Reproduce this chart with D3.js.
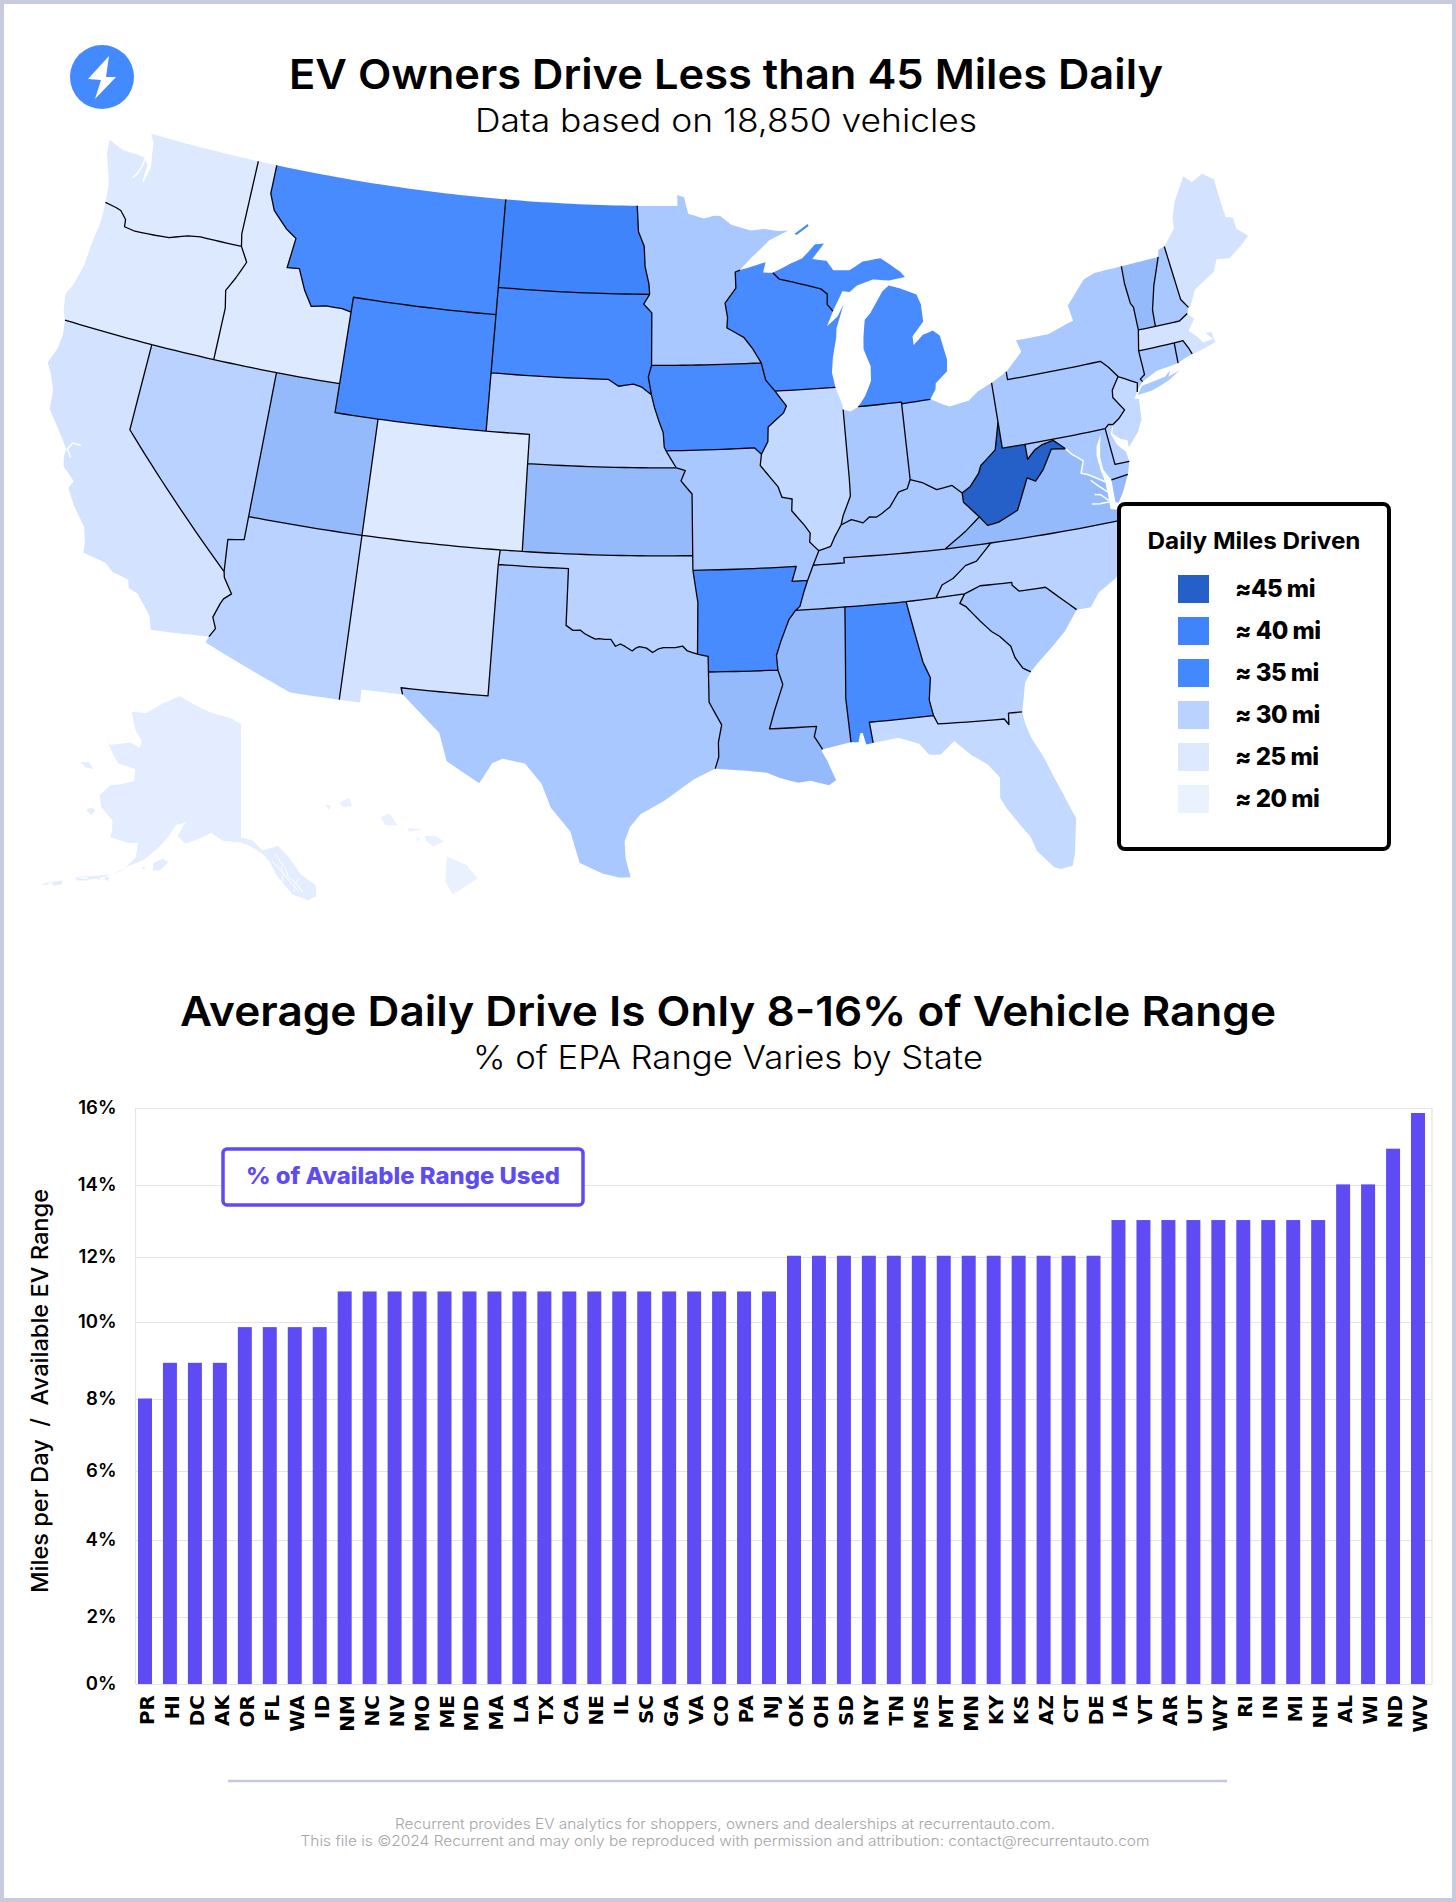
<!DOCTYPE html>
<html><head><meta charset="utf-8">
<script src="https://cdnjs.cloudflare.com/ajax/libs/d3/7.8.5/d3.min.js"></script>
<style>html,body{margin:0;padding:0;background:#c8cadf}svg{display:block}text{font-family:Inter,"Noto Sans",sans-serif}</style>
</head><body><svg id="c" width="1456" height="1902"></svg>
<script>
// ---------- bar chart data ----------
const barStates = ["PR","HI","DC","AK","OR","FL","WA","ID","NM","NC","NV","MO","ME","MD","MA","LA","TX","CA","NE","IL","SC","GA","VA","CO","PA","NJ","OK","OH","SD","NY","TN","MS","MT","MN","KY","KS","AZ","CT","DE","IA","VT","AR","UT","WY","RI","IN","MI","NH","AL","WI","ND","WV"];
const barValues = [8,9,9,9,10,10,10,10,11,11,11,11,11,11,11,11,11,11,11,11,11,11,11,11,11,11,12,12,12,12,12,12,12,12,12,12,12,12,12,13,13,13,13,13,13,13,13,13,14,14,15,16];
const yTickValues = [0,2,4,6,8,10,12,14,16];
const legendLabels = ["≈45 mi","≈ 40 mi","≈ 35 mi","≈ 30 mi","≈ 25 mi","≈ 20 mi"];
const legendColors = ["#2460c8","#3f84fb","#4288ff","#b9d2ff","#dce9ff","#eaf2ff"];

// ---------- state fills ----------
const stateColors = {WA:"#dce9ff",OR:"#dce9ff",ID:"#dce9ff",CO:"#dce9ff",CA:"#d2e2ff",NM:"#d2e2ff",ME:"#d2e2ff",MA:"#d2e2ff",
IL:"#c4d9ff",FL:"#c4d9ff",NJ:"#c4d9ff",NV:"#b9d2ff",AZ:"#b9d2ff",NE:"#b9d2ff",OK:"#b9d2ff",NC:"#b9d2ff",GA:"#b9d2ff",DE:"#b9d2ff",
TX:"#a8c8ff",MN:"#a8c8ff",MO:"#a8c8ff",IN:"#a8c8ff",OH:"#a8c8ff",PA:"#a8c8ff",NY:"#a8c8ff",KY:"#a8c8ff",TN:"#a8c8ff",SC:"#a8c8ff",CT:"#a8c8ff",NH:"#a8c8ff",MD:"#a8c8ff",RI:"#a8c8ff",
MS:"#95bafc",KS:"#95bafc",UT:"#95bafc",VA:"#95bafc",LA:"#95bafc",VT:"#95bafc",
MT:"#488aff",WY:"#488aff",SD:"#488aff",WI:"#488aff",IA:"#488aff",MI:"#488aff",AL:"#488aff",AR:"#488aff",ND:"#3f84fb",WV:"#2460c8"};
const alaskaColor = "#e4edff", hawaiiColor = "#e9f1ff";

// ---------- map geometry: boundary arcs in [lon,lat] ----------
const arcs = {
can_wa:[[-117.03,49],[-122.76,49]],
coast_wa:[[-122.76,49],[-122.5,48.7],[-122.42,48.3],[-122.3,47.9],[-122.42,47.4],[-122.5,47.25],[-122.52,47.4],[-122.5,47.9],[-122.72,48.13],[-123.1,48.17],[-123.9,48.17],[-124.73,48.38],[-124.65,47.9],[-124.3,47.3],[-124.1,46.9],[-124.05,46.65],[-124,46.27]],
wa_or:[[-124,46.27],[-123.4,46.2],[-123.15,46.15],[-122.8,45.9],[-122.75,45.65],[-122.2,45.6],[-121.2,45.65],[-120.5,45.7],[-119.6,45.92],[-119,45.99],[-116.92,45.995]],
id_wa:[[-116.92,45.995],[-117.04,46.42],[-117.03,49]],
coast_or:[[-124,46.27],[-123.95,45.9],[-123.95,45.5],[-124.05,44.8],[-124.1,44],[-124.3,43.3],[-124.55,42.85],[-124.4,42.3],[-124.21,42]],
ca_or:[[-124.21,42],[-120,42]],
nv_or:[[-120,42],[-117.03,42]],
id_or:[[-117.03,42],[-117.03,43.8],[-117.2,44.4],[-116.85,44.9],[-116.5,45.5],[-116.92,45.995]],
coast_ca:[[-124.21,42],[-124.1,41.5],[-124.15,41],[-124.4,40.44],[-124.1,40.1],[-123.8,39.6],[-123.7,38.95],[-123,38.3],[-122.5,37.8],[-122.5,37.5],[-122.4,37.2],[-122,36.95],[-121.8,36.8],[-121.95,36.55],[-121.5,36],[-120.85,35.4],[-120.65,34.9],[-120.6,34.55],[-119.6,34.4],[-119.2,34.15],[-118.5,34.03],[-118.4,33.75],[-118,33.65],[-117.3,33],[-117.12,32.53]],
mex_ca:[[-117.12,32.53],[-114.72,32.72]],
az_ca:[[-114.72,32.72],[-114.52,33.03],[-114.72,33.4],[-114.53,33.9],[-114.43,34.08],[-114.14,34.3],[-114.57,34.8],[-114.63,35]],
ca_nv:[[-120,42],[-120,39],[-114.63,35]],
id_nv:[[-117.03,42],[-114.04,42]],
nv_ut:[[-114.04,42],[-114.05,37]],
az_nv:[[-114.05,37],[-114.05,36.2],[-114.74,36.1],[-114.63,35]],
can_id:[[-116.05,49],[-117.03,49]],
id_ut:[[-114.04,42],[-111.05,42]],
id_wy:[[-111.05,42],[-111.05,44.48]],
id_mt:[[-111.05,44.48],[-111.5,44.55],[-112.3,44.55],[-113,44.45],[-113.45,44.95],[-113.9,45.65],[-114.5,45.6],[-114.35,46.65],[-114.9,46.9],[-115.7,47.45],[-116.05,48],[-116.05,49]],
can_mt:[[-104.05,49],[-116.05,49]],
mt_wy:[[-111.05,44.48],[-111.05,45],[-104.05,45]],
mt_sd:[[-104.05,45],[-104.05,45.94]],
mt_nd:[[-104.05,45.94],[-104.05,49]],
ut_wy:[[-111.05,42],[-111.05,41],[-109.05,41]],
co_wy:[[-109.05,41],[-104.05,41]],
ne_wy:[[-104.05,41],[-104.05,43]],
sd_wy:[[-104.05,43],[-104.05,45]],
az_ut:[[-114.05,37],[-109.05,37]],
co_ut:[[-109.05,37],[-109.05,41]],
mex_az:[[-114.72,32.72],[-114.81,32.5],[-111.07,31.33],[-109.05,31.33]],
az_nm:[[-109.05,31.33],[-109.05,37]],
co_nm:[[-109.05,37],[-103,37]],
co_ok:[[-103,37],[-102.04,37]],
co_ks:[[-102.04,37],[-102.05,40]],
co_ne:[[-102.05,40],[-102.05,41],[-104.05,41]],
mex_nm:[[-109.05,31.33],[-108.21,31.33],[-108.21,31.78],[-106.53,31.78]],
nm_tx:[[-106.53,31.78],[-106.62,32],[-103.06,32],[-103.04,36.5]],
nm_ok:[[-103.04,36.5],[-103,37]],
can_nd:[[-97.23,49],[-104.05,49]],
nd_sd:[[-104.05,45.94],[-96.56,45.94]],
mn_nd:[[-96.56,45.94],[-96.6,46.3],[-96.8,46.9],[-96.85,47.6],[-97.15,48.1],[-97.23,49]],
ne_sd:[[-104.05,43],[-98.5,43],[-98,42.77],[-97.3,42.85],[-96.9,42.75],[-96.45,42.49]],
ia_sd:[[-96.45,42.49],[-96.6,43.1],[-96.45,43.5]],
mn_sd:[[-96.45,43.5],[-96.45,45.3],[-96.85,45.6],[-96.56,45.94]],
ks_ne:[[-102.05,40],[-95.31,40]],
mo_ne:[[-95.31,40],[-95.77,40.58]],
ia_ne:[[-95.77,40.58],[-95.85,40.7],[-95.9,41.2],[-96.1,41.6],[-96.3,42.05],[-96.45,42.49]],
ks_ok:[[-102.04,37],[-94.62,37]],
ks_mo:[[-94.62,37],[-94.61,39.1],[-95.1,39.55],[-94.9,39.9],[-95.31,40]],
ok_tx:[[-103.04,36.5],[-100,36.5],[-100,34.56],[-99.7,34.4],[-99.4,34.42],[-99.2,34.3],[-98.95,34.2],[-98.75,34.13],[-98.6,34.15],[-98.35,34.13],[-98.1,34.13],[-97.9,33.9],[-97.7,33.98],[-97.5,33.9],[-97.2,33.75],[-97.05,33.85],[-96.9,33.9],[-96.6,33.85],[-96.35,33.7],[-96.1,33.83],[-95.9,33.87],[-95.4,33.87],[-95.1,33.92],[-94.9,33.75],[-94.48,33.64]],
ar_ok:[[-94.48,33.64],[-94.43,35.4],[-94.62,36.5]],
mo_ok:[[-94.62,36.5],[-94.62,37]],
mex_tx:[[-106.53,31.78],[-106,31.4],[-104.9,30.6],[-104.5,29.65],[-103.15,28.98],[-102.7,29.7],[-102.3,29.88],[-101.4,29.77],[-100.7,29.1],[-100.3,28.3],[-99.5,27.5],[-99.1,26.42],[-98.2,26.07],[-97.6,25.95],[-97.15,25.96]],
coast_tx:[[-97.15,25.96],[-97.35,26.6],[-97.4,27.2],[-97.2,27.7],[-96.8,28.15],[-95.9,28.6],[-95.1,29.1],[-94.7,29.35],[-93.85,29.7]],
la_tx:[[-93.85,29.7],[-93.7,30.1],[-93.7,30.6],[-93.55,31.2],[-93.8,31.6],[-94.04,31.99],[-94.04,33.02]],
ar_tx:[[-94.04,33.02],[-94.04,33.55],[-94.48,33.64]],
can_mn:[[-89.5,48],[-90,48],[-90.75,48.1],[-91.4,48.07],[-92.4,48.3],[-92.95,48.62],[-93.3,48.63],[-93.8,48.55],[-94.6,48.72],[-94.8,49.3],[-95.15,49.38],[-95.15,49],[-97.23,49]],
ia_mn:[[-96.45,43.5],[-91.22,43.5]],
mn_wi:[[-91.22,43.5],[-91.6,44],[-92,44.4],[-92.8,44.75],[-92.75,45.1],[-92.85,45.6],[-92.29,46.1],[-92.29,46.66],[-92.05,46.72]],
lake_mn:[[-92.05,46.72],[-91.5,47.1],[-90.5,47.7],[-89.5,48]],
ia_mo:[[-95.77,40.58],[-91.73,40.61],[-91.42,40.38]],
ia_il:[[-91.42,40.38],[-91.1,40.8],[-91.05,41.3],[-90.3,41.75],[-90.15,41.98],[-90.64,42.51]],
ia_wi:[[-90.64,42.51],[-91.05,42.9],[-91.22,43.5]],
ar_mo:[[-94.62,36.5],[-90.15,36.5],[-90.37,36],[-89.7,36]],
mo_tn:[[-89.7,36],[-89.42,36.5]],
ky_mo:[[-89.42,36.5],[-89.13,36.98]],
il_mo:[[-89.13,36.98],[-89.5,37.3],[-89.45,37.6],[-89.7,37.9],[-90.2,38.4],[-90.15,38.8],[-90.6,38.88],[-90.75,39.25],[-91.5,40],[-91.42,40.38]],
ar_la:[[-94.04,33.02],[-91.17,33]],
ar_ms:[[-91.17,33],[-91.2,33.5],[-91,33.95],[-90.6,34.7],[-90.3,35]],
ar_tn:[[-90.3,35],[-90.1,35.13],[-89.9,35.6],[-89.7,36]],
coast_la:[[-93.85,29.7],[-92.6,29.6],[-91.8,29.5],[-91.3,29.3],[-90.6,29.1],[-90.1,29.15],[-89.4,28.95],[-89.1,29.1],[-89.4,29.8],[-89.6,30.15],[-89.55,30.2]],
la_ms:[[-89.55,30.2],[-89.85,30.65],[-89.73,31],[-91.63,31],[-91.4,31.6],[-91,32.5],[-91.17,33]],
coast_ms:[[-89.55,30.2],[-88.4,30.37]],
al_ms:[[-88.4,30.37],[-88.47,31.9],[-88.2,35]],
ms_tn:[[-88.2,35],[-90.3,35]],
coast_al:[[-88.4,30.37],[-88.1,30.35],[-88,30.65],[-87.9,30.65],[-87.8,30.25],[-87.52,30.28]],
al_fl:[[-87.52,30.28],[-87.6,31],[-85,31]],
al_ga:[[-85,31],[-85.1,31.55],[-84.95,32.3],[-85.18,32.87],[-85.6,34.98]],
al_tn:[[-85.6,34.98],[-88.2,35]],
ga_tn:[[-85.6,34.98],[-84.32,34.99]],
nc_tn:[[-84.32,34.99],[-84,35.4],[-83.5,35.57],[-82.9,35.95],[-82.4,36.05],[-81.68,36.59]],
tn_va:[[-81.68,36.59],[-83.68,36.6]],
ky_tn:[[-83.68,36.6],[-88.07,36.68],[-88.07,36.5],[-89.42,36.5]],
ky_va:[[-83.68,36.6],[-82.7,37.1],[-82,37.53]],
ky_wv:[[-82,37.53],[-82.6,38.1],[-82.6,38.42]],
ky_oh:[[-82.6,38.42],[-83,38.72],[-83.7,38.65],[-84.3,38.95],[-84.82,39.1]],
in_ky:[[-84.82,39.1],[-85,38.8],[-85.4,38.72],[-85.85,38.25],[-86.25,38.05],[-86.5,37.95],[-86.8,37.98],[-87.1,37.8],[-87.6,37.95],[-88.07,37.8]],
il_ky:[[-88.07,37.8],[-88.4,37.4],[-88.6,37.1],[-89.13,36.98]],
il_in:[[-88.07,37.8],[-87.95,38.1],[-87.55,38.75],[-87.53,39.35],[-87.53,41.71]],
lake_il:[[-87.53,41.71],[-87.55,41.9],[-87.8,42.49]],
il_wi:[[-87.8,42.49],[-90.64,42.51]],
in_oh:[[-84.82,39.1],[-84.8,41.7]],
in_mi:[[-84.8,41.7],[-84.8,41.76],[-86.82,41.76]],
lake_in:[[-86.82,41.76],[-87.2,41.62],[-87.53,41.71]],
oh_wv:[[-82.6,38.42],[-82.2,38.6],[-81.75,39],[-81.6,39.25],[-80.85,39.7],[-80.6,40.4],[-80.52,40.64]],
oh_pa:[[-80.52,40.64],[-80.52,41.98]],
lake_oh:[[-80.52,41.98],[-81.2,41.77],[-81.7,41.5],[-82.6,41.4],[-82.9,41.5],[-83.45,41.73]],
mi_oh:[[-83.45,41.73],[-84.8,41.7]],
mi_lp:[[-83.45,41.73],[-83.15,42.05],[-83.1,42.25],[-82.5,42.6],[-82.42,43],[-82.6,43.85],[-82.9,44.05],[-83.4,43.95],[-83.9,43.65],[-83.9,43.95],[-83.3,44.4],[-83.3,45],[-83.45,45.35],[-84.2,45.63],[-84.75,45.78],[-85.1,45.6],[-85.55,45.15],[-85.8,44.9],[-86.1,44.7],[-86.25,44.1],[-86.3,43.7],[-86.05,43.1],[-86.1,42.6],[-86.45,42.1],[-86.82,41.76]],
mi_wi:[[-87.6,45.1],[-87.85,45.35],[-87.8,45.7],[-88.1,45.9],[-89.1,46.13],[-90.12,46.34],[-90.42,46.57]],
mi_up:[[-90.42,46.57],[-89.5,46.85],[-88.9,47],[-88.2,47.45],[-87.75,47.45],[-88.4,46.95],[-87.7,46.85],[-87.4,46.5],[-86.6,46.45],[-85.9,46.7],[-85,46.75],[-84.5,46.45],[-84.1,46.2],[-83.9,46],[-84.7,45.95],[-85.5,46.05],[-86.3,45.9],[-86.7,45.7],[-87.05,45.75],[-87.6,45.1]],
lake_wi_n:[[-92.05,46.72],[-91.2,46.87],[-90.75,46.95],[-90.9,46.6],[-90.42,46.57]],
lake_wi:[[-87.6,45.1],[-87.95,44.6],[-87.4,44.9],[-87.05,45.3],[-87.5,44.5],[-87.55,44.2],[-87.8,43.5],[-87.9,43],[-87.8,42.49]],
va_wv:[[-82,37.53],[-81.7,37.2],[-81.2,37.25],[-80.3,37.55],[-79.65,38.58],[-79.3,38.42],[-78.87,38.77],[-78.35,39.4],[-77.72,39.32]],
md_wv:[[-77.72,39.32],[-78.2,39.68],[-78.75,39.6],[-79.1,39.47],[-79.48,39.2],[-79.48,39.72]],
pa_wv:[[-79.48,39.72],[-80.52,39.72],[-80.52,40.64]],
nc_va:[[-81.68,36.59],[-75.87,36.55]],
coast_va:[[-75.87,36.55],[-76,36.93],[-76.3,37],[-76.28,37.55],[-76.28,37.95]],
md_va:[[-76.28,37.95],[-76.95,38.3],[-77.25,38.4],[-77.05,38.8],[-77.5,39.1],[-77.72,39.32]],
ga_nc:[[-84.32,34.99],[-83.1,35]],
nc_sc:[[-83.1,35],[-82.4,35.2],[-81.05,35.15],[-81.05,35.05],[-80.8,34.82],[-79.67,34.8],[-78.55,33.86]],
coast_nc:[[-78.55,33.86],[-77.95,33.85],[-77.5,34.3],[-76.7,34.65],[-76,35.1],[-75.5,35.25],[-75.75,36],[-75.87,36.55]],
ga_sc:[[-83.1,35],[-83.35,34.7],[-83.1,34.55],[-82.6,34],[-82.2,33.6],[-81.9,33.4],[-81.5,33],[-81.4,32.6],[-81.15,32.2],[-80.85,32.03]],
coast_sc:[[-80.85,32.03],[-80.5,32.3],[-79.9,32.7],[-79.2,33.2],[-78.55,33.86]],
fl_ga:[[-85,31],[-84.86,30.7],[-82.2,30.57],[-82.05,30.36],[-82,30.75],[-81.45,30.72]],
coast_ga:[[-81.45,30.72],[-81.3,31.2],[-81.15,31.7],[-80.85,32.03]],
coast_fl:[[-87.52,30.28],[-86.5,30.38],[-85.7,30.1],[-85.35,29.68],[-84.9,29.65],[-84.3,30.05],[-83.7,29.5],[-83.1,29.1],[-82.7,28.6],[-82.8,27.9],[-82.6,27.5],[-82.2,26.9],[-81.85,26.4],[-81.7,25.9],[-81.15,25.25],[-80.9,25.15],[-80.45,25.2],[-80.3,25.6],[-80.03,26.8],[-80.4,27.8],[-80.6,28.3],[-80.85,29],[-81.25,29.8],[-81.4,30.3],[-81.45,30.72]],
md_pa:[[-79.48,39.72],[-75.79,39.72]],
de_pa:[[-75.79,39.72],[-75.6,39.84],[-75.41,39.8]],
nj_pa:[[-75.41,39.8],[-75.1,39.95],[-74.75,40.2],[-75.15,40.7],[-75.1,40.95],[-74.7,41.36]],
ny_pa:[[-74.7,41.36],[-75.05,41.75],[-75.35,42],[-79.76,42],[-79.76,42.27]],
lake_pa:[[-79.76,42.27],[-80.52,41.98]],
bay_md:[[-76.28,37.95],[-76.38,38.4],[-76.42,38.9],[-76.33,39.2],[-76.05,39.55],[-76.17,39.2],[-76.28,38.8],[-76.25,38.35],[-76.0,37.97]],
md_esva:[[-76.0,37.97],[-75.24,38.03]],
coast_md:[[-75.24,38.03],[-75.05,38.45]],
de_md:[[-75.05,38.45],[-75.7,38.46],[-75.79,39.72]],
coast_de:[[-75.05,38.45],[-75.1,38.8],[-75.42,39.1],[-75.6,39.5],[-75.41,39.8]],
es_va:[[-76.0,37.97],[-76.03,37.2],[-75.9,37.15],[-75.6,37.5],[-75.24,38.03]],
coast_nj:[[-75.41,39.8],[-75.52,39.5],[-75.2,39.25],[-74.92,39.18],[-74.93,38.93],[-74.4,39.35],[-74.1,39.75],[-74,40.45],[-74.2,40.5],[-74,40.7]],
ny_nj:[[-74,40.7],[-73.9,41],[-74.7,41.36]],
coast_ny:[[-74,40.7],[-73.93,40.8],[-73.65,41]],
ct_ny:[[-73.65,41],[-73.73,41.1],[-73.49,41.22],[-73.5,42.05]],
ma_ny:[[-73.5,42.05],[-73.28,42.75]],
ny_vt:[[-73.28,42.75],[-73.25,43.55],[-73.35,43.7],[-73.4,44.4],[-73.35,45.01]],
can_ny:[[-73.35,45.01],[-74.7,45],[-75.3,44.85],[-76.3,44.1],[-76.2,43.55],[-76.5,43.5],[-77.5,43.27],[-79.05,43.27],[-78.9,42.85],[-79.76,42.27]],
long_island:[[-74.03,40.6],[-73.7,40.87],[-72.6,40.98],[-72.3,41.15],[-72.45,40.95],[-71.87,41.07],[-72.5,40.82],[-73.3,40.63],[-74.03,40.6]],
ma_vt:[[-73.28,42.75],[-72.46,42.73]],
nh_vt:[[-72.46,42.73],[-72.4,43.3],[-72.05,44.1],[-71.5,45.01]],
can_vt:[[-71.5,45.01],[-73.35,45.01]],
ma_nh:[[-72.46,42.73],[-71.3,42.7],[-70.85,42.88]],
coast_nh:[[-70.85,42.88],[-70.72,43.07]],
me_nh:[[-70.72,43.07],[-70.98,43.4],[-71.08,45.3]],
can_nh:[[-71.08,45.3],[-71.4,45.25],[-71.5,45.01]],
out_me:[[-70.72,43.07],[-70.6,43.1],[-70.2,43.6],[-69.8,43.75],[-69.1,44],[-68.8,44.4],[-68.2,44.3],[-67.6,44.55],[-67,44.85],[-67.45,45.2],[-67.45,45.6],[-67.8,45.7],[-67.8,47.07],[-68.3,47.36],[-68.9,47.18],[-69.23,47.46],[-70,46.7],[-70.3,46.2],[-70.4,45.8],[-71.08,45.3]],
ct_ma:[[-73.5,42.05],[-71.8,42.02]],
ma_ri:[[-71.8,42.02],[-71.38,42.02],[-71.2,41.7],[-71.12,41.5]],
coast_ma:[[-71.12,41.5],[-70.65,41.55],[-69.95,41.68],[-70,42.05],[-70.25,42.07],[-70,41.8],[-70.5,41.78],[-70.65,42],[-71,42.3],[-70.6,42.65],[-70.85,42.88]],
coast_ct:[[-73.65,41],[-72.9,41.25],[-71.86,41.32]],
ct_ri:[[-71.86,41.32],[-71.8,42.02]],
coast_ri:[[-71.86,41.32],[-71.4,41.45],[-71.12,41.5]],
isle_royale:[[-89.2,47.87],[-88.5,48.17],[-88.45,48.1],[-89.1,47.82],[-89.2,47.87]]
};
const stateRings = {
WA:[["can_wa","coast_wa","wa_or","id_wa"]],
OR:[["-wa_or","coast_or","ca_or","nv_or","id_or"]],
CA:[["-ca_or","coast_ca","mex_ca","az_ca","-ca_nv"]],
NV:[["nv_or","id_nv","nv_ut","az_nv","-ca_nv"]],
ID:[["can_id","-id_wa","-id_or","id_nv","id_ut","id_wy","id_mt"]],
MT:[["can_mt","-id_mt","mt_wy","mt_sd","mt_nd"]],
WY:[["-mt_wy","-id_wy","ut_wy","co_wy","ne_wy","sd_wy"]],
UT:[["-id_ut","nv_ut","az_ut","co_ut","-ut_wy"]],
AZ:[["-az_ut","az_nv","-az_ca","mex_az","az_nm"]],
CO:[["-co_wy","-co_ut","co_nm","co_ok","co_ks","co_ne"]],
NM:[["-co_nm","-az_nm","mex_nm","nm_tx","nm_ok"]],
ND:[["can_nd","-mt_nd","nd_sd","mn_nd"]],
SD:[["-nd_sd","-mt_sd","-sd_wy","ne_sd","ia_sd","mn_sd"]],
NE:[["-ne_sd","-ne_wy","-co_ne","ks_ne","mo_ne","ia_ne"]],
KS:[["-ks_ne","-co_ks","ks_ok","ks_mo"]],
OK:[["-ks_ok","-co_ok","-nm_ok","ok_tx","ar_ok","mo_ok"]],
TX:[["-ok_tx","-nm_tx","mex_tx","coast_tx","la_tx","ar_tx"]],
MN:[["can_mn","-mn_nd","-mn_sd","ia_mn","mn_wi","lake_mn"]],
IA:[["-ia_mn","-ia_sd","-ia_ne","ia_mo","ia_il","ia_wi"]],
MO:[["-ia_mo","-mo_ne","-ks_mo","-mo_ok","ar_mo","mo_tn","ky_mo","il_mo"]],
AR:[["-ar_mo","-ar_ok","-ar_tx","ar_la","ar_ms","ar_tn"]],
LA:[["-ar_la","-la_tx","coast_la","la_ms"]],
MS:[["-la_ms","coast_ms","al_ms","ms_tn","-ar_ms"]],
AL:[["-al_ms","coast_al","al_fl","al_ga","al_tn"]],
TN:[["-ms_tn","-al_tn","ga_tn","nc_tn","tn_va","ky_tn","-mo_tn","-ar_tn"]],
KY:[["-ky_tn","ky_va","ky_wv","ky_oh","in_ky","il_ky","-ky_mo"]],
IL:[["-il_mo","-il_ky","il_in","lake_il","il_wi","-ia_il"]],
IN:[["-il_in","-in_ky","in_oh","in_mi","lake_in"]],
OH:[["-in_oh","-ky_oh","oh_wv","oh_pa","lake_oh","mi_oh"]],
MI:[["-in_mi","-mi_oh","mi_lp"],["mi_wi","mi_up"],["isle_royale"]],
WI:[["lake_wi_n","-mi_wi","lake_wi","il_wi","ia_wi","mn_wi"]],
WV:[["-oh_wv","-ky_wv","va_wv","md_wv","pa_wv"]],
VA:[["-va_wv","-ky_va","-tn_va","nc_va","coast_va","md_va"],["es_va","-md_esva"]],
NC:[["-nc_va","-nc_tn","ga_nc","nc_sc","coast_nc"]],
SC:[["-nc_sc","ga_sc","coast_sc"]],
GA:[["-ga_nc","-ga_tn","-al_ga","fl_ga","coast_ga","-ga_sc"]],
FL:[["-fl_ga","-al_fl","coast_fl"]],
PA:[["-pa_wv","md_pa","de_pa","nj_pa","ny_pa","lake_pa","-oh_pa"]],
MD:[["-md_pa","-md_wv","-md_va","bay_md","md_esva","coast_md","de_md"]],
DE:[["-de_pa","-de_md","coast_de"]],
NJ:[["-nj_pa","coast_nj","ny_nj"]],
NY:[["-ny_pa","-ny_nj","coast_ny","ct_ny","ma_ny","ny_vt","can_ny"],["long_island"]],
VT:[["-ny_vt","ma_vt","nh_vt","can_vt"]],
NH:[["-nh_vt","ma_nh","coast_nh","me_nh","can_nh"]],
ME:[["-me_nh","out_me"]],
MA:[["-ma_ny","ct_ma","ma_ri","coast_ma","-ma_nh","-ma_vt"]],
CT:[["-ct_ny","coast_ct","ct_ri","-ct_ma"]],
RI:[["-ct_ri","coast_ri","-ma_ri"]]
};
// thin white inlets drawn on top of the land fill
const inletLines = [
[[-122.85,48.75],[-122.75,48.45],[-122.65,48.2]],
[[-122.7,48.15],[-122.75,47.8],[-122.9,47.5],[-123.05,47.35]],
[[-76.3,37.25],[-76.7,37.25],[-77.05,37.3]],
[[-76.3,37.3],[-76.6,37.55],[-76.85,37.6]],
[[-76.28,37.6],[-76.6,37.85],[-76.9,38.1]],
[[-121.9,38.05],[-122.3,38.05],[-122.45,37.8],[-122.2,37.55]]
];
const alaskaRings = [
[[-141,69.65],[-143.5,70.1],[-148,70.4],[-152,70.85],[-156.5,71.35],[-160,70.4],[-163,69.2],[-166.2,68.9],[-164,67.6],[-162,66.9],[-161.9,66.3],[-164,66.5],[-168,65.65],[-165,64.55],[-161.5,64.55],[-161,63.6],[-163,63.05],[-164.9,62.6],[-166,61.6],[-165,60.7],[-162.5,60],[-162,59.2],[-162,58.65],[-159,58.6],[-157.5,58.8],[-157.3,57.6],[-158.8,56.3],[-161,55.4],[-163,54.8],[-164.8,54.6],[-162.5,55.2],[-160,55.8],[-158,56.8],[-156,57.6],[-154.2,58.8],[-153,59.8],[-152,60.9],[-150.5,61.2],[-151.5,60],[-150,59.5],[-148,60],[-146,60.6],[-144,60],[-141,59.9],[-139.5,59.6],[-137.5,58.9],[-136.5,58.2],[-135.5,57],[-134.5,56.2],[-133.5,55.4],[-131.5,54.8],[-130.2,55],[-130,55.9],[-132,57],[-133.5,58.5],[-135,59.5],[-137.5,59.2],[-139.2,60.1],[-141,60.3],[-141,69.65]],
[[-154.5,57.5],[-153.2,58],[-152.2,57.8],[-153.3,57],[-154.3,56.9],[-154.5,57.5]],
[[-167,60.2],[-166.1,60.4],[-165.7,60.25],[-166.1,59.8],[-167,60],[-167,60.2]],
[[-171.5,63.4],[-170,63.7],[-168.8,63.3],[-170.3,63.2],[-171.5,63.4]],
[[-164.9,54.6],[-163.4,55.05],[-163.1,54.7],[-164.5,54.4],[-164.9,54.6]],
[[-167.8,53.5],[-166.3,54],[-166.4,53.6],[-167.3,53.3],[-167.8,53.5]],
[[-168.9,53],[-167.9,53.5],[-168.2,53.1],[-168.9,53]],
[[-160.9,55.4],[-160.3,55.5],[-160.4,55.15],[-160.9,55.2],[-160.9,55.4]],
[[-162.0,55.1],[-161.5,55.25],[-161.6,55],[-162.0,55.1]],
[[-156,57.0],[-155.5,57.0],[-155.7,56.75],[-156,57.0]]
];
const alaskaChannels = [
[[-136.2,58.3],[-135.2,57.7],[-134.3,57],[-133.5,56.3],[-132.5,55.6]],
[[-135.5,58.9],[-134.9,58.2],[-134.2,57.6],[-133.9,56.9],[-133,56.4],[-132,55.5]],
[[-134.8,57.8],[-134.6,57.1],[-134.9,56.6]],
[[-133.3,55.6],[-133.1,56.2],[-132.3,56.7]]
];
const hawaiiRings = [
[[-155.9,20.25],[-155.2,19.95],[-154.8,19.5],[-155.7,18.95],[-155.95,19.4],[-155.9,20.25]],
[[-156.7,20.95],[-156.3,20.95],[-156,20.75],[-156.4,20.58],[-156.65,20.8],[-156.7,20.95]],
[[-157.3,21.2],[-156.75,21.17],[-157.25,21.08],[-157.3,21.2]],
[[-157,20.9],[-156.85,20.85],[-156.95,20.75],[-157,20.9]],
[[-158.28,21.57],[-157.97,21.71],[-157.65,21.3],[-158.1,21.3],[-158.28,21.57]],
[[-159.78,22.05],[-159.4,22.23],[-159.3,21.95],[-159.6,21.9],[-159.78,22.05]],
[[-160.25,21.98],[-160.05,21.95],[-160.15,21.8],[-160.25,21.98]]
];

// ---------- helpers ----------
function densify(pts){const out=[];for(let i=0;i<pts.length-1;i++){const a=pts[i],b=pts[i+1],n=Math.max(1,Math.ceil(Math.hypot(b[0]-a[0],b[1]-a[1])/0.4));for(let k=0;k<n;k++)out.push([a[0]+(b[0]-a[0])*k/n,a[1]+(b[1]-a[1])*k/n]);}out.push(pts[pts.length-1]);return out;}
function arcPts(name){return name[0]==="-"?arcs[name.slice(1)].slice().reverse():arcs[name];}
function closeRing(r){const f=r[0],l=r[r.length-1];return (f[0]===l[0]&&f[1]===l[1])?r:r.concat([f]);}
function wind(r){r=densify(closeRing(r));return d3.geoArea({type:"Polygon",coordinates:[r]})>2*Math.PI?r.slice().reverse():r;}
function multi(rings){return {type:"MultiPolygon",coordinates:rings.map(r=>[wind(r)])};}

// ---------- layout ----------
const svg=d3.select("#c");
svg.append("rect").attr("width",1456).attr("height",1902).attr("fill","#c8cadf");
svg.append("rect").attr("x",4).attr("y",4).attr("width",1448).attr("height",1894).attr("fill","#fff");

// logo
svg.append("circle").attr("cx",102).attr("cy",77).attr("r",32).attr("fill","#4389ff");
svg.append("path").attr("fill","#fff").attr("d","M109,56L88,79L101,80L95,99L116,77L106,77Z");

function txt(s,x,y,size,weight,len,fill,anchor){
  const t=svg.append("text").attr("x",x).attr("y",y).attr("font-size",size).attr("font-weight",weight).attr("fill",fill||"#000").attr("text-anchor",anchor||"middle").text(s);
  if(len)t.attr("textLength",len).attr("lengthAdjust","spacingAndGlyphs");
  return t;
}
txt("EV Owners Drive Less than 45 Miles Daily",726,89,41,600,874);
txt("Data based on 18,850 vehicles",726,132,32,300,502);
txt("Average Daily Drive Is Only 8-16% of Vehicle Range",728,1026,41,600,1096);
txt("% of EPA Range Varies by State",728,1069,32,300,510);

// ---------- map ----------
const proj=d3.geoAlbers().rotate([96,0]).center([0,38]).parallels([29.5,45.5]).scale(1665).translate([661,526.5]).precision(0.1);
const akProj=d3.geoConicEqualArea().rotate([141,0]).center([0,65]).parallels([55,65]).scale(700).translate([241,780]).precision(0.1);
const hiProj=d3.geoConicEqualArea().rotate([157,0]).center([0,20.5]).parallels([8,18]).scale(1700).translate([416,849]).precision(0.1);
const path=d3.geoPath(proj), akPath=d3.geoPath(akProj), hiPath=d3.geoPath(hiProj);

const mapG=svg.append("g");
mapG.append("path").datum(multi(alaskaRings)).attr("d",akPath).attr("fill",alaskaColor);
mapG.append("path").datum({type:"MultiLineString",coordinates:alaskaChannels.map(densify)}).attr("d",akPath).attr("fill","none").attr("stroke","#fff").attr("stroke-width",1);
mapG.append("path").datum(multi(hawaiiRings)).attr("d",hiPath).attr("fill",hawaiiColor);

const use={};
const features=Object.keys(stateRings).map(id=>{
  const rings=stateRings[id].map(seq=>{
    let r=[];
    seq.forEach(n=>{use[n.replace("-","")]=(use[n.replace("-","")]||0)+1;const p=arcPts(n);r=r.concat(r.length?p.slice(1):p);});
    return r;
  });
  return {id,geometry:multi(rings)};
});
mapG.selectAll("path.state").data(features).join("path").attr("class","state")
  .attr("d",d=>path(d.geometry)).attr("fill",d=>stateColors[d.id]);
const borderNames=Object.keys(arcs).filter(n=>use[n]>1 && n!=="md_va");
mapG.append("path").datum({type:"MultiLineString",coordinates:borderNames.map(n=>densify(arcs[n]))})
  .attr("d",path).attr("fill","none").attr("stroke","#000").attr("stroke-width",1.3).attr("stroke-linejoin","round");
mapG.append("path").datum({type:"MultiLineString",coordinates:[densify(arcs.md_va)].concat(inletLines.map(densify))})
  .attr("d",path).attr("fill","none").attr("stroke","#fff").attr("stroke-width",1.5);

// legend
svg.append("rect").attr("x",1119).attr("y",504).attr("width",270).attr("height",345).attr("rx",6).attr("fill","#fff").attr("stroke","#000").attr("stroke-width",4);
txt("Daily Miles Driven",1254,549,23,700,213);
const legY=d3.scaleBand().domain(legendLabels).range([575,827]);
const legG=svg.append("g");
legG.selectAll("rect").data(legendLabels).join("rect").attr("x",1178).attr("y",d=>legY(d)).attr("width",31).attr("height",28).attr("fill",(d,i)=>legendColors[i]);
legG.selectAll("text").data(legendLabels).join("text").attr("x",1235).attr("y",d=>legY(d)+22).attr("font-size",24).attr("font-weight",800).attr("fill","#000").attr("letter-spacing",-0.5).text(d=>d);

// ---------- bars ----------
const plotL=135.5, plotR=1432, plotT=1108, plotB=1684;
const x=d3.scaleBand().domain(barStates).range([132.5,1430.5]).paddingInner(0.44).paddingOuter(0.22);
const yBar=d3.scaleLinear().domain([0,16]).range([plotB,1113]);
const yAxisScale=d3.scaleLinear().domain(yTickValues).range([1684,1617,1540,1471,1399,1322,1257,1185,1108]);

const gy=svg.append("g").attr("transform",`translate(${plotL},0)`)
  .call(d3.axisLeft(yAxisScale).tickValues(yTickValues).tickSize(-(plotR-plotL)).tickPadding(19).tickFormat(d=>d+"%"));
gy.select(".domain").remove();
gy.selectAll("line").attr("stroke","#e4e4e8").attr("stroke-width",1.2);
gy.selectAll("text").attr("font-size",18.5).attr("font-weight",600).attr("fill","#000").style("font-family","Inter");
svg.append("line").attr("x1",plotL).attr("x2",plotL).attr("y1",plotT).attr("y2",plotB).attr("stroke","#e4e4e8").attr("stroke-width",1.2);
svg.append("line").attr("x1",plotR).attr("x2",plotR).attr("y1",plotT).attr("y2",plotB).attr("stroke","#e4e4e8").attr("stroke-width",1.2);

svg.append("g").selectAll("rect").data(barStates).join("rect")
  .attr("x",d=>x(d)).attr("width",x.bandwidth())
  .attr("y",(d,i)=>yBar(barValues[i])).attr("height",(d,i)=>plotB-yBar(barValues[i]))
  .attr("fill","#5e4bf3");

const gx=svg.append("g").attr("transform",`translate(0,${plotB})`).call(d3.axisBottom(x).tickSize(0));
gx.select(".domain").remove();
gx.selectAll("text").attr("dy",null).attr("y",null).attr("x",0).attr("text-anchor","end")
  .attr("transform","translate(9,11) rotate(-90)")
  .attr("font-size",20).attr("font-weight",700).attr("fill","#000").style("font-family","'DejaVu Sans'");

// annotation
svg.append("rect").attr("x",223).attr("y",1149).attr("width",360).attr("height",56).attr("rx",4).attr("fill","#fff").attr("stroke","#5e4bf3").attr("stroke-width",3.5);
txt("% of Available Range Used",403,1184,23.5,800,314,"#5e4bf3");

// y title
svg.append("text").attr("transform","translate(48,1391) rotate(-90)").attr("text-anchor","middle").attr("font-size",23).attr("font-weight",500).attr("fill","#000").attr("textLength",404).attr("lengthAdjust","spacingAndGlyphs").style("white-space","pre").text("Miles per Day  /  Available EV Range");

// footer
svg.append("line").attr("x1",228).attr("x2",1227).attr("y1",1781).attr("y2",1781).attr("stroke","#c5c9de").attr("stroke-width",2.5);
txt("Recurrent provides EV analytics for shoppers, owners and dealerships at recurrentauto.com.",725,1829,14.5,300,660,"#a5a5a8");
txt("This file is ©2024 Recurrent and may only be reproduced with permission and attribution: contact@recurrentauto.com",725,1846,14.5,300,849,"#a5a5a8");
</script></body></html>
